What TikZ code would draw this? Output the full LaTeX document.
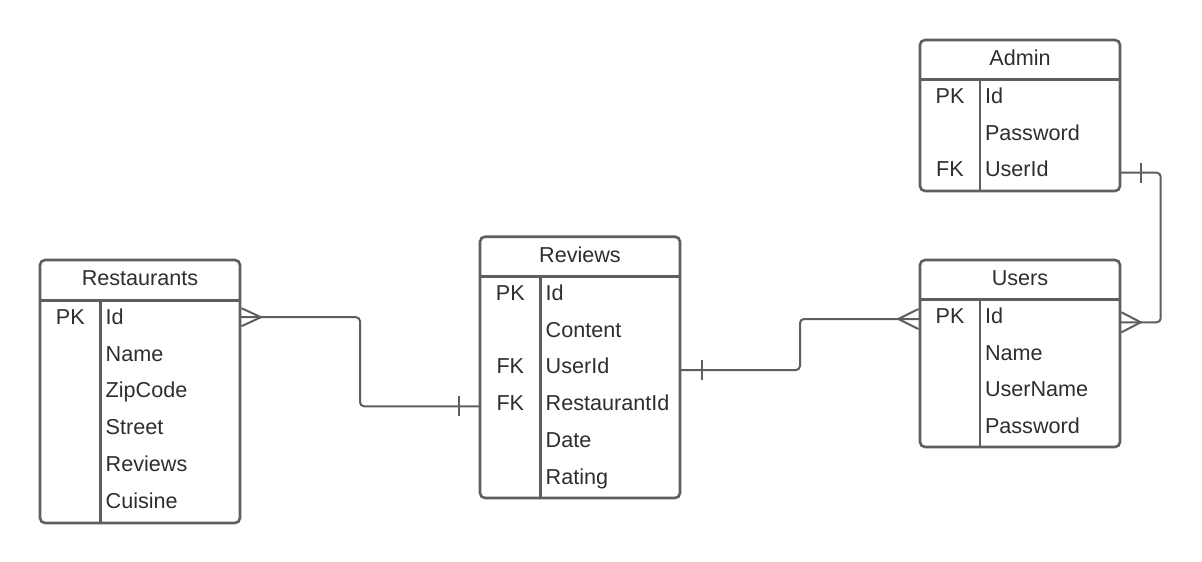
\documentclass[tikz,border=0pt]{standalone}
\usepackage{fontspec}
\setmainfont{Liberation Sans}
\usetikzlibrary{calc}
\definecolor{ln}{HTML}{5E5E5E}
\definecolor{tx}{HTML}{2E2E2E}
\newcommand{\erfont}{\fontsize{21.6}{26}\selectfont}
\begin{document}
\begin{tikzpicture}[x=1pt,y=-1pt,
  tbl/.style={draw=ln, line width=2.6pt, rounded corners=5pt, inner sep=0pt, outer sep=0pt, fill=white, anchor=north west},
  sepline/.style={draw=ln, line width=2.6pt},
  conn/.style={draw=ln, line width=2pt, rounded corners=4pt},
  crow/.style={draw=ln, line width=2pt},
  hdr/.style={text=tx, font=\erfont, anchor=center, inner sep=0pt, text height=15.5pt, text depth=0pt},
  keyt/.style={text=tx, font=\erfont, anchor=center, inner sep=0pt, text height=15.5pt, text depth=0pt},
  fld/.style={text=tx, font=\erfont, anchor=west, inner sep=0pt, text height=15.5pt, text depth=0pt},
]
\useasboundingbox (0,0) rectangle (1202,562);

% ---------- Restaurants ----------
\node[tbl, minimum width=200pt, minimum height=263pt] (rest) at (40,260) {};
\draw[sepline] (40,300.7) -- (240,300.7);
\draw[sepline] (100.7,300.7) -- (100.7,523);
\node[hdr] (rest-t) at (140,277.8) {Restaurants};
\node[keyt] (rest-k1) at (70.3,316.8) {PK};
\node[fld] (rest-f1) at (105.5,316.8) {Id};
\node[fld] (rest-f2) at (105.5,353.5) {Name};
\node[fld] (rest-f3) at (105.5,390.2) {ZipCode};
\node[fld] (rest-f4) at (105.5,426.9) {Street};
\node[fld] (rest-f5) at (105.5,463.6) {Reviews};
\node[fld] (rest-f6) at (105.5,500.3) {Cuisine};

% ---------- Reviews ----------
\node[tbl, minimum width=200pt, minimum height=261.3pt] (rev) at (480,236.7) {};
\draw[sepline] (480,276.7) -- (680,276.7);
\draw[sepline] (540.7,276.7) -- (540.7,498);
\node[hdr] (rev-t) at (580,254.3) {Reviews};
\node[keyt] (rev-k1) at (510.3,292.8) {PK};
\node[keyt] (rev-k3) at (510.3,366.2) {FK};
\node[keyt] (rev-k4) at (510.3,402.9) {FK};
\node[fld] (rev-f1) at (545.5,292.8) {Id};
\node[fld] (rev-f2) at (545.5,329.5) {Content};
\node[fld] (rev-f3) at (545.5,366.2) {UserId};
\node[fld] (rev-f4) at (545.5,402.9) {RestaurantId};
\node[fld] (rev-f5) at (545.5,439.6) {Date};
\node[fld] (rev-f6) at (545.5,476.3) {Rating};

% ---------- Users ----------
\node[tbl, minimum width=200pt, minimum height=187pt] (users) at (920,260) {};
\draw[sepline] (920,299.5) -- (1120,299.5);
\draw[sepline] (980,299.5) -- (980,447);
\node[hdr] (users-t) at (1020,277.3) {Users};
\node[keyt] (users-k1) at (950,315.6) {PK};
\node[fld] (users-f1) at (984.8,315.6) {Id};
\node[fld] (users-f2) at (984.8,352.3) {Name};
\node[fld] (users-f3) at (984.8,389.0) {UserName};
\node[fld] (users-f4) at (984.8,425.7) {Password};

% ---------- Admin ----------
\node[tbl, minimum width=200pt, minimum height=151pt] (admin) at (920,40) {};
\draw[sepline] (920,79.5) -- (1120,79.5);
\draw[sepline] (980,79.5) -- (980,191);
\node[hdr] (admin-t) at (1020,57.3) {Admin};
\node[keyt] (admin-k1) at (950,95.6) {PK};
\node[keyt] (admin-k3) at (950,169.0) {FK};
\node[fld] (admin-f1) at (984.8,95.6) {Id};
\node[fld] (admin-f2) at (984.8,132.3) {Password};
\node[fld] (admin-f3) at (984.8,169.0) {UserId};

% ---------- Connector: Restaurants (many) -- Reviews (one) ----------
\coordinate (c1s) at ($(rest.east |- rest-f1)+(0,0.4)$);
\coordinate (c1e) at ($(rev.west |- rev-f4)+(0,3.4)$);
\coordinate (c1m) at ($(c1s)!0.5!(c1e)$);
\draw[conn] (c1s) -- (c1s -| c1m) -- (c1m |- c1e) -- (c1e);
\draw[crow] ($(c1s)+(1.5,-9)$) -- ($(c1s)+(21,0)$) -- ($(c1s)+(1.5,9)$);
\draw[crow] ($(c1e)+(-21,-10)$) -- ($(c1e)+(-21,10)$);

% ---------- Connector: Reviews (one) -- Users (many) ----------
\coordinate (c2s) at ($(rev.east |- rev-f3)+(0,3.8)$);
\coordinate (c2e) at ($(users.west |- users-f1)+(0,3.4)$);
\coordinate (c2m) at ($(c2s)!0.5!(c2e)$);
\draw[conn] (c2s) -- (c2s -| c2m) -- (c2m |- c2e) -- (c2e);
\draw[crow] ($(c2s)+(21.7,-10)$) -- ($(c2s)+(21.7,10)$);
\draw[crow] ($(c2e)+(-1.5,-10)$) -- ($(c2e)+(-21.7,0)$) -- ($(c2e)+(-1.5,10)$);

% ---------- Connector: Admin (one) -- Users (many) ----------
\coordinate (c3s) at ($(admin.east |- admin-f3)+(0,3.7)$);
\coordinate (c3e) at ($(users.east |- users-f1)+(0,6.7)$);
\coordinate (c3r) at ($(c3s)+(40.7,0)$);
\draw[conn] (c3s) -- (c3r) -- (c3r |- c3e) -- (c3e);
\draw[crow] ($(c3s)+(21,-10)$) -- ($(c3s)+(21,10)$);
\draw[crow] ($(c3e)+(1.5,-10)$) -- ($(c3e)+(20.7,0)$) -- ($(c3e)+(1.5,10)$);
\end{tikzpicture}
\end{document}
